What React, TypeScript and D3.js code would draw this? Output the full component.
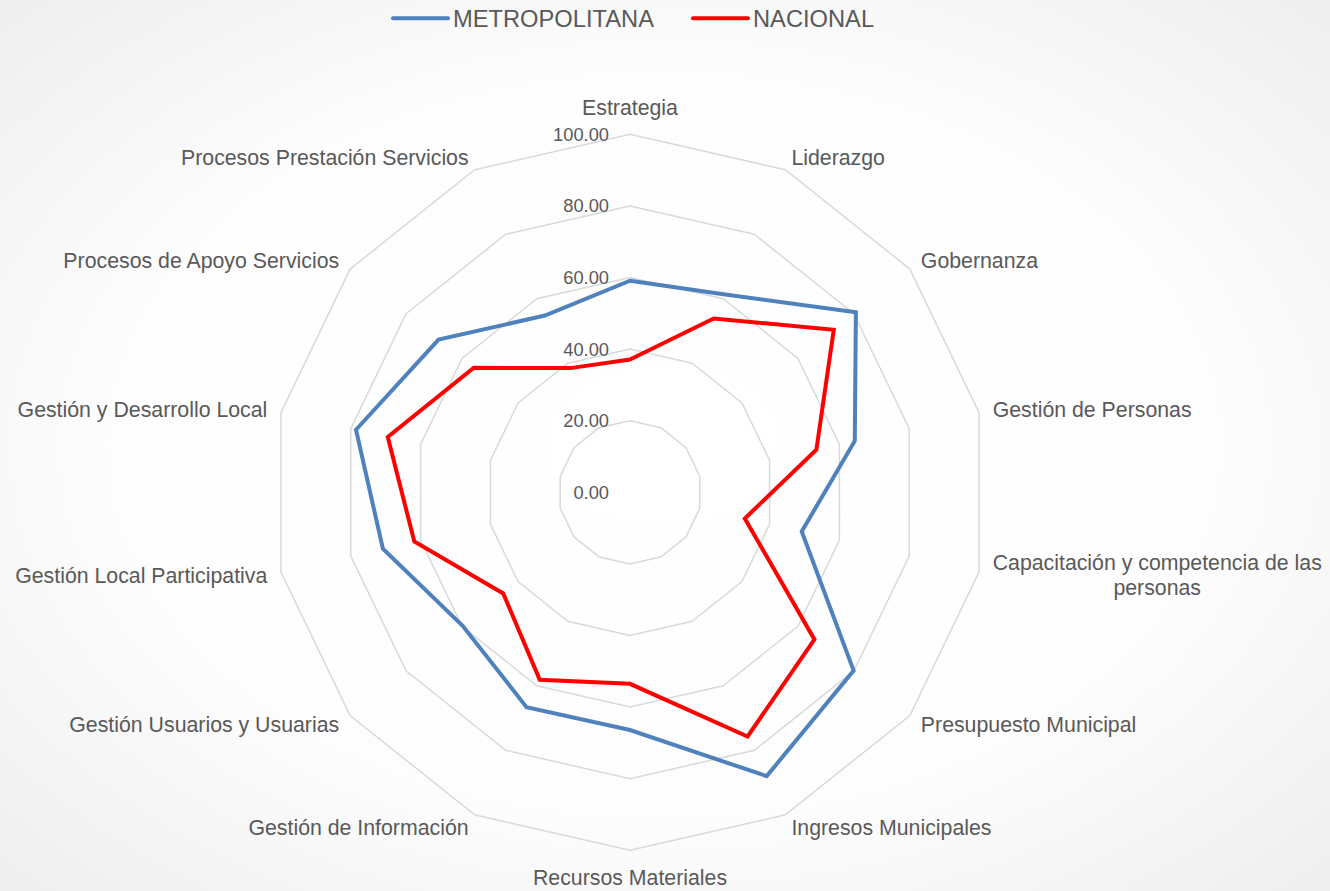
import { useEffect, useRef } from 'react';
import * as d3 from 'd3';

const categories = [
  'Estrategia',
  'Liderazgo',
  'Gobernanza',
  'Gestión de Personas',
  'Capacitación y competencia de las|personas',
  'Presupuesto Municipal',
  'Ingresos Municipales',
  'Recursos Materiales',
  'Gestión de Información',
  'Gestión Usuarios y Usuarias',
  'Gestión Local Participativa',
  'Gestión y Desarrollo Local',
  'Procesos de Apoyo Servicios',
  'Procesos Prestación Servicios',
];
const metropolitana = [59.1, 61.3, 80.7, 64.4, 49.2, 79.9, 88.0, 66.4, 66.6, 59.8, 70.8, 78.5, 68.4, 54.8];
const nacional = [37.1, 53.9, 72.8, 53.4, 32.9, 65.9, 75.7, 53.5, 58.1, 45.3, 61.8, 69.4, 55.8, 38.5];
const ticks = [0, 20, 40, 60, 80, 100];
const seriesNames = ['METROPOLITANA', 'NACIONAL'];
const seriesColors = ['#4f81bd', '#ff0000'];

const RadarChart = () => {
  const svgRef = useRef<SVGSVGElement>(null);

  useEffect(() => {
    const svg = d3.select(svgRef.current);
    svg.selectAll('*').remove(); // Clear previous SVG elements

    const width = 1330;
    const height = 891;
    const cx = 630;
    const cy = 492.3;
    const R = 358;
    const font = '"Liberation Sans", Arial, sans-serif';
    const textColor = '#595959';

    const defs = svg.append('defs');
    const grad = defs.append('radialGradient').attr('id', 'bg').attr('cx', '50%').attr('cy', '50%').attr('r', '75%');
    grad.append('stop').attr('offset', '0%').attr('stop-color', '#ffffff');
    grad.append('stop').attr('offset', '55%').attr('stop-color', '#fdfdfd');
    grad.append('stop').attr('offset', '100%').attr('stop-color', '#ececec');
    svg.append('rect').attr('width', width).attr('height', height).attr('fill', 'url(#bg)');

    const r = d3.scaleLinear().domain([0, 100]).range([0, R]);
    const n = categories.length;
    const angle = d3.scaleLinear().domain([0, n]).range([0, 2 * Math.PI]);

    const g = svg.append('g').attr('transform', `translate(${cx},${cy})`);

    // grid rings
    const ring = d3.lineRadial<number>()
      .angle((d, i) => angle(i))
      .radius(d => r(d))
      .curve(d3.curveLinearClosed);

    ticks.forEach(t => {
      g.append('path')
        .datum(d3.range(n).map(() => t))
        .attr('fill', 'none')
        .attr('stroke', '#d9d9d9')
        .attr('stroke-width', 1.5)
        .attr('d', ring);
    });

    // tick labels
    g.selectAll('text.tick')
      .data(ticks)
      .enter()
      .append('text')
      .attr('class', 'tick')
      .attr('x', -21)
      .attr('y', d => -r(d))
      .attr('dy', '0.35em')
      .attr('text-anchor', 'end')
      .attr('font-family', font)
      .attr('font-size', 18.3)
      .attr('fill', textColor)
      .text(d => d.toFixed(2));

    // series
    [metropolitana, nacional].forEach((vals, si) => {
      g.append('path')
        .datum(vals)
        .attr('fill', 'none')
        .attr('stroke', seriesColors[si])
        .attr('stroke-width', 4)
        .attr('stroke-linejoin', 'miter')
        .attr('d', ring);
    });

    // category labels
    categories.forEach((c, i) => {
      const a = angle(i);
      const s = Math.sin(a);
      const co = Math.cos(a);
      const lr = R + 14;
      let x = lr * s;
      let y = -lr * co;
      let anchor = 'middle';
      if (Math.abs(s) < 0.1) {
        y -= co * 13;
      } else {
        anchor = s > 0 ? 'start' : 'end';
      }
      const lines = c.split('|');
      const lh = 24.5;
      const t = g.append('text')
        .attr('font-family', font)
        .attr('font-size', 21.3)
        .attr('fill', textColor)
        .attr('text-anchor', anchor);
      lines.forEach((l, li) => {
        t.append('tspan')
          .attr('x', x)
          .attr('y', y + (li - (lines.length - 1) / 2) * lh)
          .attr('dy', '0.35em')
          .text(l);
      });
      if (lines.length > 1 && anchor === 'start') {
        // center wrapped lines within the block
        const spans = t.selectAll<SVGTSpanElement, unknown>('tspan').nodes();
        const w = Math.max(...spans.map(sp => sp.getComputedTextLength()));
        t.attr('text-anchor', 'middle');
        spans.forEach(sp => d3.select(sp).attr('x', x + w / 2));
      }
    });

    // legend
    const legend = svg.append('g');
    const items = [
      { x1: 393, x2: 448, tx: 453 },
      { x1: 693, x2: 748, tx: 753 },
    ];
    items.forEach((it, i) => {
      legend.append('line')
        .attr('x1', it.x1).attr('x2', it.x2)
        .attr('y1', 18.3).attr('y2', 18.3)
        .attr('stroke', seriesColors[i])
        .attr('stroke-width', 4)
        .attr('stroke-linecap', 'round');
      legend.append('text')
        .attr('x', it.tx)
        .attr('y', 18.3)
        .attr('dy', '0.35em')
        .attr('font-family', font)
        .attr('font-size', 23.7)
        .attr('fill', textColor)
        .text(seriesNames[i]);
    });
  }, []);

  return (
    <svg
      ref={svgRef}
      width={1330}
      height={891}
      style={{ position: 'absolute', left: 0, top: 0, display: 'block' }}
    ></svg>
  );
};

export default function App() {
  return <RadarChart />;
}
